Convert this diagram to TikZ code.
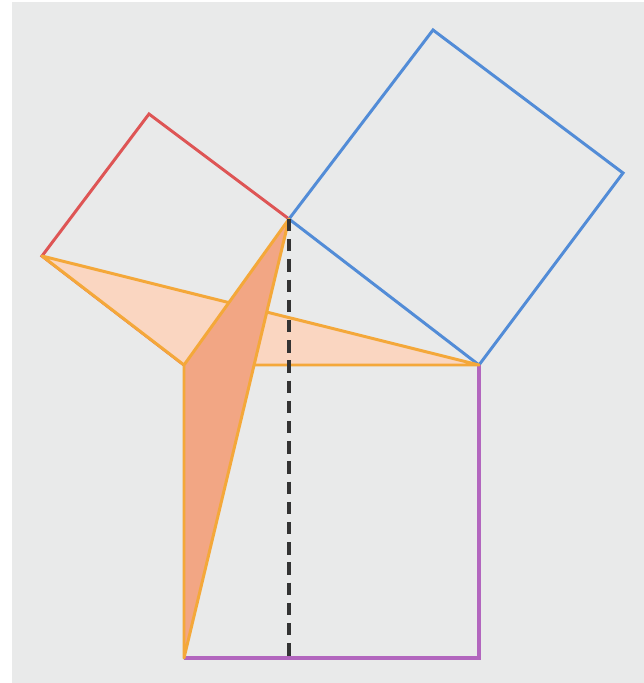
\documentclass[tikz,border=0pt]{standalone}
\usepackage{tikz}
\usetikzlibrary{calc}

\definecolor{bggray}{RGB}{233,234,234}
\definecolor{sqred}{RGB}{222,85,85}
\definecolor{sqblue}{RGB}{82,140,215}
\definecolor{sqpurple}{RGB}{178,102,190}
\definecolor{triedge}{RGB}{244,168,58}
\definecolor{trilight}{RGB}{250,214,193}
\definecolor{tridark}{RGB}{242,166,132}

\tikzset{
    side/.style={line width=1.7pt, line join=miter},
    tri/.style={draw=triedge, line width=1.7pt, line join=round},
    altitude/.style={draw=black!80, line width=2.3pt, dash pattern=on 7pt off 4.5pt}
}

\begin{document}
\begin{tikzpicture}[x=0.02cm, y=0.02cm]
    % canvas
    \fill[white] (0,0) rectangle (644,683);
    \fill[bggray] (12,0) rectangle (644,681);
    \useasboundingbox (0,0) rectangle (644,683);

    % right triangle and squares
    \coordinate (A) at (289,464);
    \coordinate (B) at (184,318);
    \coordinate (C) at (479,318);
    \coordinate (D) at (184,25);
    \coordinate (E) at (479,25);
    \coordinate (F) at (42,427);
    \coordinate (G) at (149,569);
    \coordinate (K) at (433,653);
    \coordinate (L) at (623,510);
    \coordinate (H) at (289,25);

    \draw[side, sqred] (B) -- (F) -- (G) -- (A);
    \draw[side, sqblue] (A) -- (K) -- (L) -- (C) -- cycle;
    \draw[side, sqpurple, line width=2pt] (C) -- (E) -- (D);

    % congruent triangles
    \filldraw[tri, fill=trilight] (F) -- (C) -- (B) -- cycle;
    \filldraw[tri, fill=tridark] (A) -- (B) -- (D) -- cycle;

    \draw[altitude] (A) -- (H);
\end{tikzpicture}
\end{document}
